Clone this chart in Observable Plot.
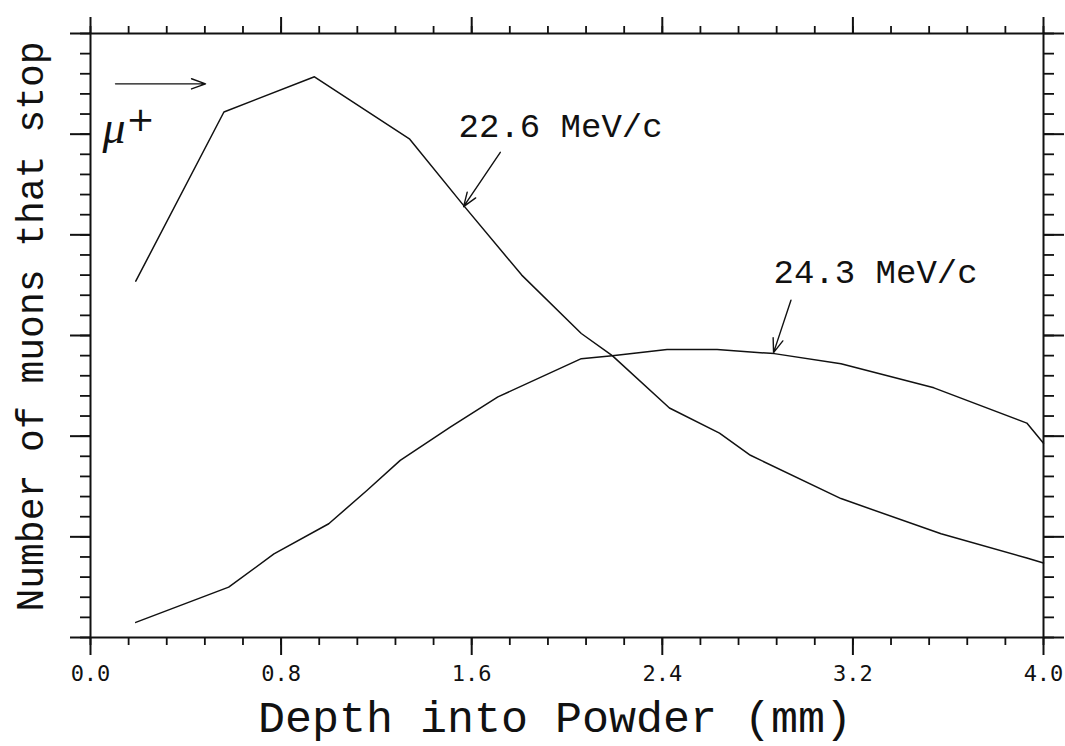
<!DOCTYPE html>
<html>
<head>
<meta charset="utf-8">
<script src="https://cdn.jsdelivr.net/npm/d3@7"></script>
<script src="https://cdn.jsdelivr.net/npm/@observablehq/plot@0.6"></script>
<style>
  html, body { margin: 0; padding: 0; background: #fff; }
  #chart svg { display: block; }
</style>
</head>
<body>
<div id="chart"></div>
<script>
// Curve for 22.6 MeV/c
const depth226 = [0.19, 0.56, 0.94, 1.34, 1.57, 1.81, 2.06, 2.19, 2.43, 2.64, 2.77, 3.15, 3.57, 3.93, 4.0];
const stop226  = [3.54, 5.22, 5.57, 4.95, 4.28, 3.60, 3.02, 2.80, 2.28, 2.03, 1.81, 1.38, 1.03, 0.79, 0.74];
// Curve for 24.3 MeV/c
const depth243 = [0.19, 0.58, 0.77, 1.00, 1.16, 1.30, 1.51, 1.71, 2.06, 2.19, 2.42, 2.63, 2.87, 3.15, 3.54, 3.93, 4.0];
const stop243  = [0.15, 0.50, 0.83, 1.13, 1.46, 1.76, 2.09, 2.39, 2.77, 2.80, 2.86, 2.86, 2.82, 2.72, 2.48, 2.13, 1.93];

// Axis ticks
const xMajor = [0.0, 0.8, 1.6, 2.4, 3.2, 4.0];
const xMinor = d3.range(0, 4.0001, 0.16);
const yMajor = [0, 1, 2, 3, 4, 5, 6];
const yMinor = d3.range(0, 6.0001, 0.2);

// Text
const xTitle = "Depth into Powder (mm)";
const yTitle = "Number of muons that stop";
const labelText = ["22.6 MeV/c", "24.3 MeV/c"];
const labelX = [1.545, 2.867];
const labelY = [4.97, 3.52];
// Arrows pointing to curves (data units)
const arrowX1 = [1.72, 2.94, 0.105];
const arrowY1 = [4.82, 3.35, 5.50];
const arrowX2 = [1.566, 2.867, 0.483];
const arrowY2 = [4.28, 2.83, 5.50];

const series = [
  ...depth226.map((d, i) => ({depth: d, value: stop226[i], s: "22.6"})),
  ...depth243.map((d, i) => ({depth: d, value: stop243[i], s: "24.3"}))
];
const labels = labelText.map((t, i) => ({t, x: labelX[i], y: labelY[i]}));
const arrows = arrowX1.map((x1, i) => ({x1, y1: arrowY1[i], x2: arrowX2[i], y2: arrowY2[i]}));

const mono = "'Liberation Mono', 'DejaVu Sans Mono', monospace";
const tickFont = "'DejaVu Sans Mono', monospace";
const blank = () => "";

const chart = Plot.plot({
  width: 1065,
  height: 746,
  marginLeft: 90,
  marginRight: 22,
  marginTop: 33,
  marginBottom: 109,
  x: {domain: [0, 4]},
  y: {domain: [0, 6]},
  style: {background: "#fff", color: "#111"},
  marks: [
    Plot.frame({stroke: "#111", strokeWidth: 2}),
    // bottom axis
    Plot.axisX(xMinor, {anchor: "bottom", tickSize: 8, tickFormat: blank, label: null, strokeWidth: 1.8}),
    Plot.axisX(xMajor, {anchor: "bottom", tickSize: 18, tickPadding: 10, tickFormat: d => d.toFixed(1),
      label: null, fontSize: 22, fontFamily: tickFont, strokeWidth: 2}),
    // top axis
    Plot.axisX(xMinor, {anchor: "top", tickSize: 8, tickFormat: blank, label: null, strokeWidth: 1.8}),
    Plot.axisX(xMajor, {anchor: "top", tickSize: 17, tickFormat: blank, label: null, strokeWidth: 2}),
    // left axis
    Plot.axisY(yMinor, {anchor: "left", tickSize: 10, tickFormat: blank, label: null, strokeWidth: 1.8}),
    Plot.axisY(yMajor, {anchor: "left", tickSize: 20, tickFormat: blank, label: null, strokeWidth: 2}),
    // right axis
    Plot.axisY(yMinor, {anchor: "right", tickSize: 10, tickFormat: blank, label: null, strokeWidth: 1.8}),
    Plot.axisY(yMajor, {anchor: "right", tickSize: 20, tickFormat: blank, label: null, strokeWidth: 2}),
    // curves
    Plot.line(series, {x: "depth", y: "value", z: "s", stroke: "#111", strokeWidth: 1.5}),
    // arrows
    Plot.arrow(arrows, {x1: "x1", y1: "y1", x2: "x2", y2: "y2", stroke: "#111", strokeWidth: 1.4, headLength: 16, headAngle: 40}),
    // labels
    Plot.text(labels, {x: "x", y: "y", text: "t", textAnchor: "start", lineAnchor: "bottom",
      fontSize: 34, fontFamily: mono, fill: "#111"}),
    // mu+
    Plot.text(["μ"], {x: () => 0.05, y: () => 4.91, textAnchor: "start", lineAnchor: "bottom",
      fontSize: 46, fontStyle: "italic", fontFamily: "'Liberation Serif', serif", fill: "#111"}),
    Plot.text(["+"], {x: () => 0.21, y: () => 5.14, fontSize: 34, fontFamily: "'DejaVu Sans', sans-serif", fill: "#111"}),
    // axis titles
    Plot.text([xTitle], {frameAnchor: "bottom", textAnchor: "middle", lineAnchor: "bottom", dx: -12, dy: 94,
      fontSize: 45, fontFamily: mono, fill: "#111"}),
    Plot.text([yTitle], {frameAnchor: "left", textAnchor: "middle", lineAnchor: "middle", dx: -60, dy: -9,
      rotate: -90, fontSize: 38, fontFamily: mono, fill: "#111"})
  ]
});
document.getElementById("chart").append(chart);
</script>
</body>
</html>
